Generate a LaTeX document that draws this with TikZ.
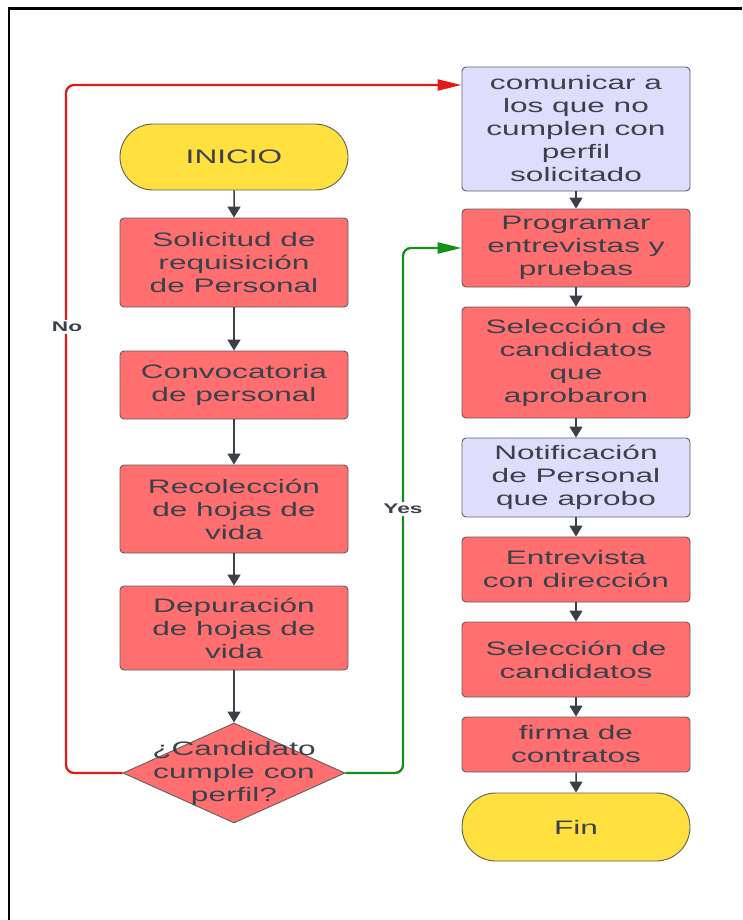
\documentclass[tikz,border=0pt]{standalone}
\usepackage{fontspec}
\setmainfont[FakeStretch=1.62]{Liberation Sans}
\usetikzlibrary{shapes.geometric,shapes.misc,arrows.meta}
\definecolor{boxred}{HTML}{FF6F6F}
\definecolor{boxlav}{HTML}{DEDEFC}
\definecolor{boxyel}{HTML}{FFE03F}
\definecolor{edge}{HTML}{5F5F5F}
\definecolor{txt}{HTML}{3A414A}
\definecolor{lred}{HTML}{E41A1A}
\definecolor{lgreen}{HTML}{14901A}
\begin{document}
\begin{tikzpicture}[x=1pt,y=-1pt,
  base/.style={draw=edge,line width=0.9pt,text=txt,font=\fontsize{19.5}{23}\selectfont,align=center,inner sep=0pt,minimum width=228pt},
  proc/.style={base,rectangle,rounded corners=4pt,fill=boxred},
  note/.style={base,rectangle,rounded corners=4pt,fill=boxlav},
  term/.style={base,rounded rectangle,fill=boxyel},
  dec/.style={base,diamond,fill=boxred,minimum width=0pt,aspect=2.2,inner sep=0pt},
  flow/.style={draw=txt,line width=1.5pt,-{Triangle[length=11pt,width=13pt]}},
  branch/.style={line width=2.3pt,rounded corners=8pt,-{Triangle[length=24pt,width=11pt]}},
  lab/.style={font=\bfseries\fontsize{14}{16}\selectfont,text=txt,fill=white,inner sep=2pt}]
\useasboundingbox (0,0) rectangle (742,920);
\draw[line width=2.2pt] (742,8.5) -- (9,8.5) -- (9,920);
% left column
\node[term,minimum height=66pt] (ini) at (234,157) {INICIO};
\node[proc,minimum height=89pt] (sol) at (234,262.5) {Solicitud de\\requisición\\de Personal};
\node[proc,minimum height=68pt] (con) at (234,385) {Convocatoria\\de personal};
\node[proc,minimum height=88pt] (rec) at (234,509) {Recolección\\de hojas de\\vida};
\node[proc,minimum height=84pt] (dep) at (234,628) {Depuración\\de hojas de\\vida};
\node[dec,minimum width=222pt,minimum height=100pt] (dec) at (234,773) {};
\node[text=txt,font=\fontsize{19.5}{23}\selectfont,align=center] (dectext) at (234,773) {¿Candidato\\cumple con\\perfil?};
% right column
\node[note,minimum height=124pt] (com) at (576,129) {comunicar a\\los que no\\cumplen con\\perfil\\solicitado};
\node[proc,minimum height=78pt] (pro) at (576,248) {Programar\\entrevistas y\\pruebas};
\node[proc,minimum height=111pt] (sel1) at (576,362.5) {Selección de\\candidatos\\que\\aprobaron};
\node[note,minimum height=79pt] (not) at (576,477.5) {Notificación\\de Personal\\que aprobo};
\node[proc,minimum height=65pt] (ent) at (576,569.5) {Entrevista\\con dirección};
\node[proc,minimum height=75pt] (sel2) at (576,659.5) {Selección de\\candidatos};
\node[proc,minimum height=55pt] (fir) at (576,744.5) {firma de\\contratos};
\node[term,minimum height=68pt] (fin) at (576,827) {Fin};
% flows
\draw[flow] (ini) -- (sol);
\draw[flow] (sol) -- (con);
\draw[flow] (con) -- (rec);
\draw[flow] (rec) -- (dep);
\draw[flow] (dep) -- (dec);
\draw[flow] (com) -- (pro);
\draw[flow] (pro) -- (sel1);
\draw[flow] (sel1) -- (not);
\draw[flow] (not) -- (ent);
\draw[flow] (ent) -- (sel2);
\draw[flow] (sel2) -- (fir);
\draw[flow] (fir) -- (fin);
\coordinate (ca) at (com.west |- 0,85);
\draw[branch,draw=lred] (dec.west) -- (66,773) -- (66,85) -- (ca);
\draw[branch,draw=lgreen] (dec.east) -- (403,773) -- (403,248) -- (pro.west);
\node[lab] (no) at (67,327) {No};
\node[lab] (yes) at (403,509) {Yes};
\end{tikzpicture}
\end{document}
